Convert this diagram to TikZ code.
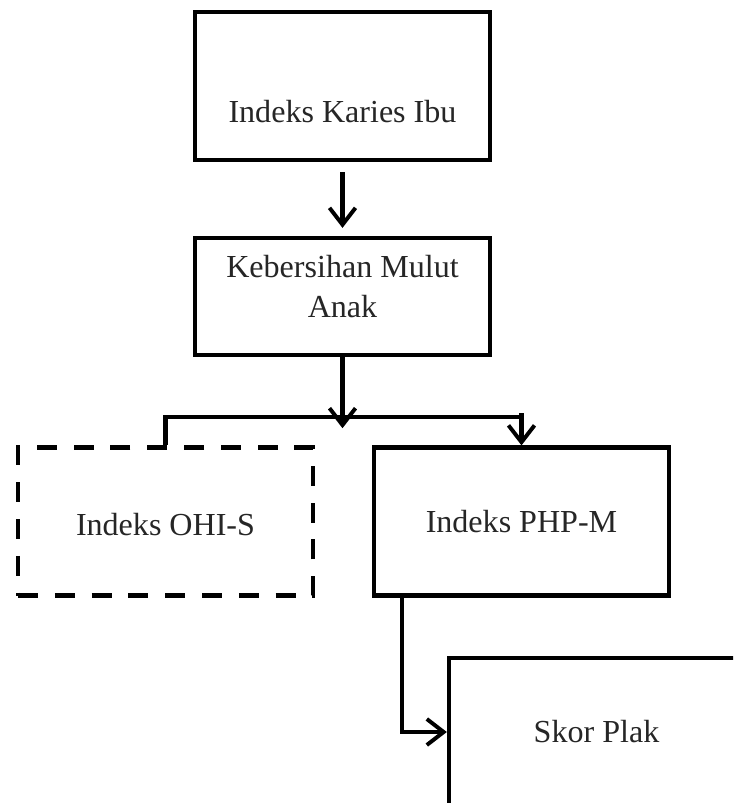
\documentclass[tikz,border=0pt]{standalone}
\usepackage{fontspec}
\setmainfont{Liberation Serif}
\usepackage{tikz}
\usetikzlibrary{arrows.meta, positioning, calc}
\tikzset{
  % Box styles
  varbox/.style={rectangle, draw=black, line width=3pt, fill=white, minimum width=7.375cm, minimum height=3.7cm, inner sep=0pt},
  shortbox/.style={varbox, minimum height=2.925cm},
  dashbox/.style={varbox, dash pattern=on 0.5cm off 0.42cm},
  boxtext/.style={font=\fontsize{22.8}{28}\selectfont, align=center, inner sep=0pt, text=black!85},
  % Arrow styles
  arrow/.style={-{Straight Barb[length=4.2mm, width=6.5mm, line width=2.8pt]}, line width=3.2pt, black},
  plainline/.style={line width=3pt, black}
}
\begin{document}
\begin{tikzpicture}[x=0.025cm, y=-0.025cm]
  \useasboundingbox (0,0) rectangle (733,803);
  \clip (0,0) rectangle (733,803);

  % Boxes
  \node[varbox] (karies) at (342.5,86) {};
  \node[shortbox] (mulut) at (342.5,296.5) {};
  \node[dashbox] (ohis) at (165.5,521.5) {};
  \node[varbox] (php) at (521.5,521.5) {};
  \node[varbox] (skor) at (596.5,732) {};

  % Texts
  \node[boxtext] (kariestext) at ([yshift=-0.65cm]karies.center) {Indeks Karies Ibu};
  \node[boxtext] (mulutext) at ([yshift=0.25cm]mulut.center) {Kebersihan Mulut\\Anak};
  \node[boxtext] (ohistext) at ([yshift=-0.08cm]ohis.center) {Indeks OHI-S};
  \node[boxtext] (phptext) at (php.center) {Indeks PHP-M};
  \node[boxtext] (skortext) at (skor.center) {Skor Plak};

  % Connectors
  \coordinate (split) at (342.5,417);
  \draw[arrow] ([yshift=-0.25cm]karies.south) -- ([yshift=0.2cm]mulut.north);
  \draw[plainline] (ohis.north) |- (php.north |- split);
  \draw[arrow] (mulut.south) -- ([yshift=-0.28cm]split);
  \draw[arrow] ([yshift=0.1cm]php.north |- split) -- (php.north);
  \draw[arrow] ([xshift=0.75cm]php.south west) |- (skor.west);
\end{tikzpicture}
\end{document}
